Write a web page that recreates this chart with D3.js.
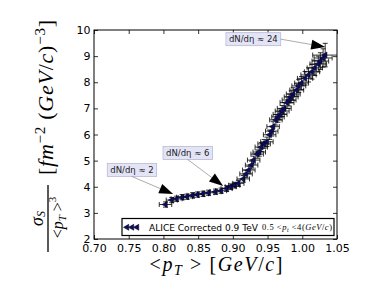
<!DOCTYPE html>
<html>
<head>
<meta charset="UTF-8" />
<script src="https://cdn.jsdelivr.net/npm/d3@7"></script>
<style>
  body { margin: 0; background: #fff; }
  svg { display: block; }
  .tick text { font-family: "DejaVu Sans", sans-serif; font-size: 11px; fill: #000; }
  .math { font-family: "Liberation Serif", serif; }
  .it { font-style: italic; }
</style>
</head>
<body>
<div id="chart"></div>
<script>
// <pT> vs sigma_S/<pT>^3
const ptMean = [0.803, 0.812, 0.819, 0.827, 0.834, 0.842, 0.849, 0.857, 0.865, 0.875,
                0.883, 0.891, 0.897, 0.902, 0.908, 0.915, 0.919, 0.923, 0.927, 0.930,
                0.935, 0.938, 0.941, 0.945, 0.949, 0.953, 0.956, 0.958, 0.962, 0.965,
                0.968, 0.971, 0.974, 0.978, 0.981, 0.984, 0.987, 0.992, 0.995, 0.999,
                1.004, 1.009, 1.014, 1.018, 1.023, 1.026, 1.030, 1.033];
const sigma  = [3.32, 3.49, 3.54, 3.60, 3.62, 3.67, 3.70, 3.73, 3.77, 3.81,
                3.85, 3.93, 4.00, 4.06, 4.13, 4.30, 4.49, 4.64, 4.83, 5.02,
                5.25, 5.33, 5.52, 5.64, 5.72, 5.99, 6.13, 6.30, 6.56, 6.67,
                6.77, 6.90, 7.00, 7.22, 7.32, 7.44, 7.55, 7.70, 7.86, 7.97,
                8.15, 8.28, 8.40, 8.55, 8.70, 8.81, 8.93, 9.04];
const ptErr  = [0.009, 0.008, 0.008, 0.008, 0.008, 0.008, 0.008, 0.008, 0.008, 0.008,
                0.008, 0.008, 0.008, 0.008, 0.008, 0.009, 0.009, 0.009, 0.009, 0.009,
                0.009, 0.009, 0.009, 0.009, 0.009, 0.009, 0.009, 0.009, 0.009, 0.009,
                0.010, 0.010, 0.010, 0.010, 0.010, 0.010, 0.010, 0.010, 0.010, 0.010,
                0.011, 0.011, 0.011, 0.011, 0.012, 0.012, 0.013, 0.018];
const sigErr = [0.10, 0.10, 0.10, 0.10, 0.10, 0.10, 0.10, 0.10, 0.10, 0.10,
                0.10, 0.11, 0.11, 0.11, 0.12, 0.13, 0.14, 0.14, 0.15, 0.15,
                0.16, 0.16, 0.17, 0.17, 0.18, 0.18, 0.19, 0.19, 0.20, 0.20,
                0.21, 0.21, 0.22, 0.22, 0.23, 0.23, 0.24, 0.24, 0.25, 0.25,
                0.26, 0.27, 0.28, 0.29, 0.30, 0.32, 0.35, 0.45];

const xTicks = [0.70, 0.75, 0.80, 0.85, 0.90, 0.95, 1.00, 1.05];
const yTicks = [2, 3, 4, 5, 6, 7, 8, 9, 10];

// annotations: label, box centre (data), arrow tip (data), where the arrow leaves the box
const noteLabels = ["dN/dη ≈ 2", "dN/dη ≈ 6", "dN/dη ≈ 24"];
const noteText   = [[0.7547, 4.64], [0.835, 5.29], [0.9295, 9.65]];
const noteTip    = [[0.814, 3.72], [0.886, 4.03], [1.033, 9.35]];
const noteFrom   = [[0.5, 1], [0.5, 1], [1, 0.5]];

const W = 374, H = 299;
const svg = d3.select("#chart").append("svg").attr("width", W).attr("height", H);

const x = d3.scaleLinear().domain([0.70, 1.05]).range([94, 337]);
const y = d3.scaleLinear().domain([2, 10]).range([239, 30]);

const data = ptMean.map((v, i) => ({ pt: v, s: sigma[i], ex: ptErr[i], ey: sigErr[i] }));

// axes with inward ticks on all four sides
svg.append("g").attr("transform", "translate(0,239)")
  .call(d3.axisBottom(x).tickValues(xTicks).tickFormat(d3.format(".2f")).tickSizeInner(-4).tickSizeOuter(0).tickPadding(5.5))
  .call(g => g.select(".domain").remove());
svg.append("g").attr("transform", "translate(0,30)")
  .call(d3.axisTop(x).tickValues(xTicks).tickFormat("").tickSizeInner(-4).tickSizeOuter(0))
  .call(g => g.select(".domain").remove());
svg.append("g").attr("transform", "translate(94,0)")
  .call(d3.axisLeft(y).tickValues(yTicks).tickFormat(d3.format("d")).tickSizeInner(-4).tickSizeOuter(0).tickPadding(3.5))
  .call(g => g.select(".domain").remove());
svg.append("g").attr("transform", "translate(337,0)")
  .call(d3.axisRight(y).tickValues(yTicks).tickFormat("").tickSizeInner(-4).tickSizeOuter(0))
  .call(g => g.select(".domain").remove());
svg.selectAll(".tick line").attr("stroke", "#000").attr("stroke-width", 0.8);

svg.append("clipPath").attr("id", "clip").append("rect")
  .attr("x", 94).attr("y", 30).attr("width", 243).attr("height", 209);
const plot = svg.append("g").attr("clip-path", "url(#clip)");

// error bars
const eb = plot.append("g").attr("stroke", "#000").attr("stroke-width", 0.8).attr("fill", "none");
const cap = 2.5;
data.forEach(d => {
  const cx = x(d.pt), cy = y(d.s);
  const x0 = x(d.pt - d.ex), x1 = x(d.pt + d.ex);
  const y0 = y(d.s - d.ey), y1 = y(d.s + d.ey);
  eb.append("path").attr("d",
    `M${x0},${cy}H${x1}M${cx},${y0}V${y1}` +
    `M${x0},${cy - cap}V${cy + cap}M${x1},${cy - cap}V${cy + cap}` +
    `M${cx - cap},${y0}H${cx + cap}M${cx - cap},${y1}H${cx + cap}`);
});

const tri = d3.symbol().type(d3.symbolTriangle).size(16);
plot.append("g").selectAll("path").data(data).enter().append("path")
  .attr("d", tri)
  .attr("transform", d => `translate(${x(d.pt)},${y(d.s)}) rotate(-90)`)
  .attr("fill", "#0b0b6b").attr("stroke", "#000").attr("stroke-width", 0.5);

// frame
svg.append("rect").attr("x", 94).attr("y", 30).attr("width", 243).attr("height", 209)
  .attr("fill", "none").attr("stroke", "#000").attr("stroke-width", 1);

// annotations
noteLabels.forEach((lab, i) => {
  const g = svg.append("g");
  const tx = x(noteText[i][0]), ty = y(noteText[i][1]);
  const t = g.append("text").attr("x", tx).attr("y", ty).attr("text-anchor", "middle")
    .attr("dominant-baseline", "central")
    .style("font-family", "DejaVu Sans, sans-serif").style("font-size", "8.5px").attr("fill", "#222").text(lab);
  const bb = t.node().getBBox();
  const bx = bb.x - 3, by = ty - 6.5, bw = bb.width + 6, bh = 13;
  g.insert("rect", "text").attr("x", bx).attr("y", by).attr("width", bw).attr("height", bh)
    .attr("fill", "#e4e4f7").attr("stroke", "#b8b8d8").attr("stroke-width", 0.8);
  const sx = bx + noteFrom[i][0] * bw, sy = by + noteFrom[i][1] * bh;
  const px = x(noteTip[i][0]), py = y(noteTip[i][1]);
  const ang = Math.atan2(py - sy, px - sx);
  const hl = 14, hw = 5;
  const bxh = px - hl * Math.cos(ang), byh = py - hl * Math.sin(ang);
  g.append("line").attr("x1", sx).attr("y1", sy).attr("x2", bxh).attr("y2", byh)
    .attr("stroke", "#888").attr("stroke-width", 0.7);
  g.append("path").attr("d",
    `M${px},${py}L${bxh - hw * Math.sin(ang)},${byh + hw * Math.cos(ang)}L${bxh + hw * Math.sin(ang)},${byh - hw * Math.cos(ang)}Z`)
    .attr("fill", "#000");
});

// legend
const leg = svg.append("g");
leg.append("rect").attr("x", 122).attr("y", 218.5).attr("width", 212).attr("height", 17)
  .attr("fill", "#fff").attr("stroke", "#000").attr("stroke-width", 1.2);
[127, 132, 137].forEach(lx => {
  leg.append("path").attr("d", tri).attr("transform", `translate(${lx},227.3) rotate(-90)`)
    .attr("fill", "#0b0b6b").attr("stroke", "#000").attr("stroke-width", 0.5);
});
leg.append("text").attr("x", 149).attr("y", 230.5)
  .style("font-family", "DejaVu Sans, sans-serif").style("font-size", "8.8px")
  .attr("textLength", 109).attr("lengthAdjust", "spacingAndGlyphs").text("ALICE Corrected 0.9 TeV");
const lm = leg.append("text").attr("class", "math").attr("x", 262).attr("y", 230.3).style("font-size", "8.5px")
  .attr("textLength", 70).attr("lengthAdjust", "spacing");
lm.append("tspan").text("0.5 <");
lm.append("tspan").attr("class", "it").text("p");
lm.append("tspan").attr("class", "it").attr("dy", 1.5).style("font-size", "6px").text("t");
lm.append("tspan").attr("dy", -1.5).text(" <4(");
lm.append("tspan").attr("class", "it").text("GeV");
lm.append("tspan").text("/");
lm.append("tspan").attr("class", "it").text("c");
lm.append("tspan").text(")");

// x label
const xl = svg.append("text").attr("class", "math").attr("x", 216).attr("y", 271)
  .attr("text-anchor", "middle").style("font-size", "20px")
  .attr("textLength", 133).attr("lengthAdjust", "spacing");
xl.append("tspan").text("<");
xl.append("tspan").attr("class", "it").text("p");
xl.append("tspan").attr("class", "it").attr("dy", 4).style("font-size", "14px").text("T");
xl.append("tspan").attr("dy", -4).text(" > [");
xl.append("tspan").attr("class", "it").text("GeV");
xl.append("tspan").text("/");
xl.append("tspan").attr("class", "it").text("c");
xl.append("tspan").text("]");

// y label (rotated)
const yl = svg.append("g").attr("class", "math").attr("transform", "translate(48,134.5) rotate(-90)");
yl.append("line").attr("x1", -117.5).attr("x2", -50.5).attr("y1", 0).attr("y2", 0)
  .attr("stroke", "#000").attr("stroke-width", 1.3);
const num = yl.append("text").attr("x", -84).attr("y", -5).attr("text-anchor", "middle").style("font-size", "18px");
num.append("tspan").attr("class", "it").text("σ");
num.append("tspan").attr("class", "it").attr("dy", 2).style("font-size", "12px").text("S");
const den = yl.append("text").attr("x", -83).attr("y", 15).attr("text-anchor", "middle").style("font-size", "16px");
den.append("tspan").text("<");
den.append("tspan").attr("class", "it").text("p");
den.append("tspan").attr("class", "it").attr("dy", 3).style("font-size", "11px").text("T");
den.append("tspan").attr("dy", -3).text(" >");
den.append("tspan").attr("dy", -7).style("font-size", "11px").text("3");
const br = yl.append("text").attr("x", -40.5).attr("y", 5).style("font-size", "22px")
  .attr("textLength", 155).attr("lengthAdjust", "spacing");
br.append("tspan").text("[");
br.append("tspan").attr("class", "it").text("fm");
br.append("tspan").attr("dy", -8).style("font-size", "15px").text("−2");
br.append("tspan").attr("dy", 8).text(" (");
br.append("tspan").attr("class", "it").text("GeV");
br.append("tspan").text("/");
br.append("tspan").attr("class", "it").text("c");
br.append("tspan").text(")");
br.append("tspan").attr("dy", -8).style("font-size", "15px").text("−3");
br.append("tspan").attr("dy", 8).text("]");
</script>
</body>
</html>
